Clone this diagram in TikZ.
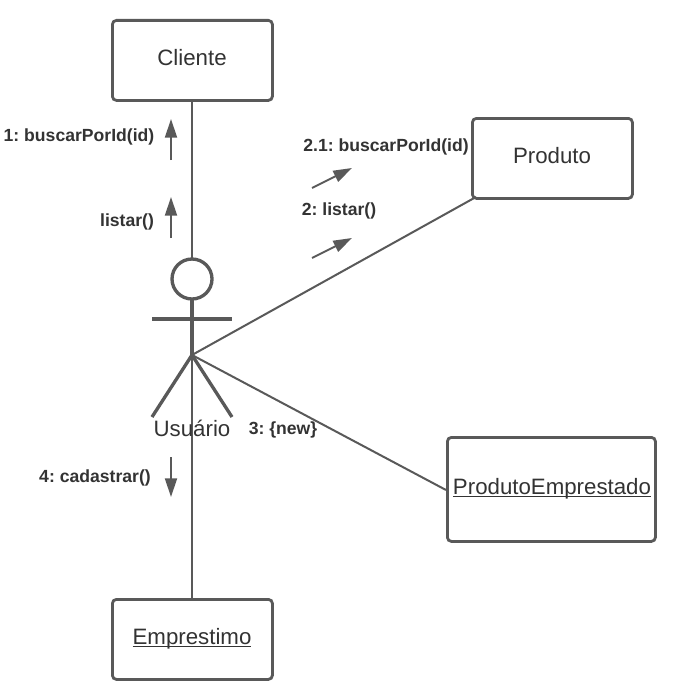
\documentclass[tikz,border=0pt]{standalone}
\usepackage{fontspec}
\setmainfont{Liberation Sans}
\usetikzlibrary{arrows.meta}
\definecolor{ink}{HTML}{595959}
\definecolor{txt}{HTML}{333333}
\frenchspacing
\tikzset{
  x=0.75pt,y=-0.75pt,
  objbox/.style={draw=ink,line width=2.1pt,rounded corners=3pt,fill=white,inner sep=0pt,text=txt,anchor=north west},
  conn/.style={draw=ink,line width=1.5pt},
  limb/.style={draw=ink,line width=2.5pt},
  msg/.style={draw=ink,line width=1.4pt,-{Triangle[length=14pt,width=9pt]}},
  lbl/.style={text=txt,inner sep=0pt,font=\bfseries\fontsize{13.2}{15}\selectfont},
  plain/.style={text=txt,inner sep=0pt,font=\fontsize{16.7}{19}\selectfont}
}
\begin{document}
\begin{tikzpicture}
\useasboundingbox (0,0) rectangle (675,699);
\coordinate (hip) at (192,355);
\node[minimum size=0pt] (head) at (192,279) {};
\node[objbox,minimum width=120pt,minimum height=60pt] (cli) at (111,19) {};
\node[objbox,minimum width=120pt,minimum height=60pt] (prod) at (471,117) {};
\node[objbox,minimum width=156pt,minimum height=78pt] (pe) at (446,436) {};
\node[objbox,minimum width=120pt,minimum height=60pt] (emp) at (111,598) {};
\draw[conn] (head |- cli.south) -- (head);
\draw[conn] (hip) -- (476,197);
\draw[conn] (hip) -- (pe.west |- 0,490);
\draw[conn] (hip) -- (hip |- emp.north);
\node[draw=ink,line width=2.5pt,circle,fill=white,minimum size=30pt,inner sep=0pt] at (192,279) {};
\coordinate (armL) at (152,319);
\coordinate (armR) at (232,319);
\coordinate (legL) at (152,417);
\coordinate (legR) at (232,417);
\draw[limb] (armL) -- (armR);
\draw[limb] (192,299) -- (hip);
\draw[limb] (legL) -- (hip) -- (legR);
\node[plain] (usu) at (192,428.5) {Usuário};
\node[plain] at (192,58) {Cliente};
\node[plain] at (552,156) {Produto};
\node[plain,anchor=base] at (552,494) {\underline{\smash{ProdutoEmprestado}}};
\node[plain,anchor=base] at (192,644) {\underline{\smash{Emprestimo}}};
\node[lbl] at (79,136.5) {1: buscarPorId(id)};
\node[lbl] at (127,221.5) {listar()};
\node[lbl] at (386,146.5) {2.1: buscarPorId(id)};
\node[lbl] at (339,210.5) {2: listar()};
\node[lbl] at (283,429.5) {3: \{new\}};
\node[lbl] at (95,477.5) {4: cadastrar()};
\coordinate (a1) at (171,160); \coordinate (a2) at (171,119);
\coordinate (b1) at (171,238); \coordinate (b2) at (171,197);
\coordinate (c1) at (312,188); \coordinate (c2) at (352,168);
\coordinate (d1) at (312,258); \coordinate (d2) at (352,238);
\coordinate (e1) at (171,457); \coordinate (e2) at (171,497);
\draw[msg] (a1) -- (a2);
\draw[msg] (b1) -- (b2);
\draw[msg] (c1) -- (c2);
\draw[msg] (d1) -- (d2);
\draw[msg] (e1) -- (e2);
\end{tikzpicture}
\end{document}
